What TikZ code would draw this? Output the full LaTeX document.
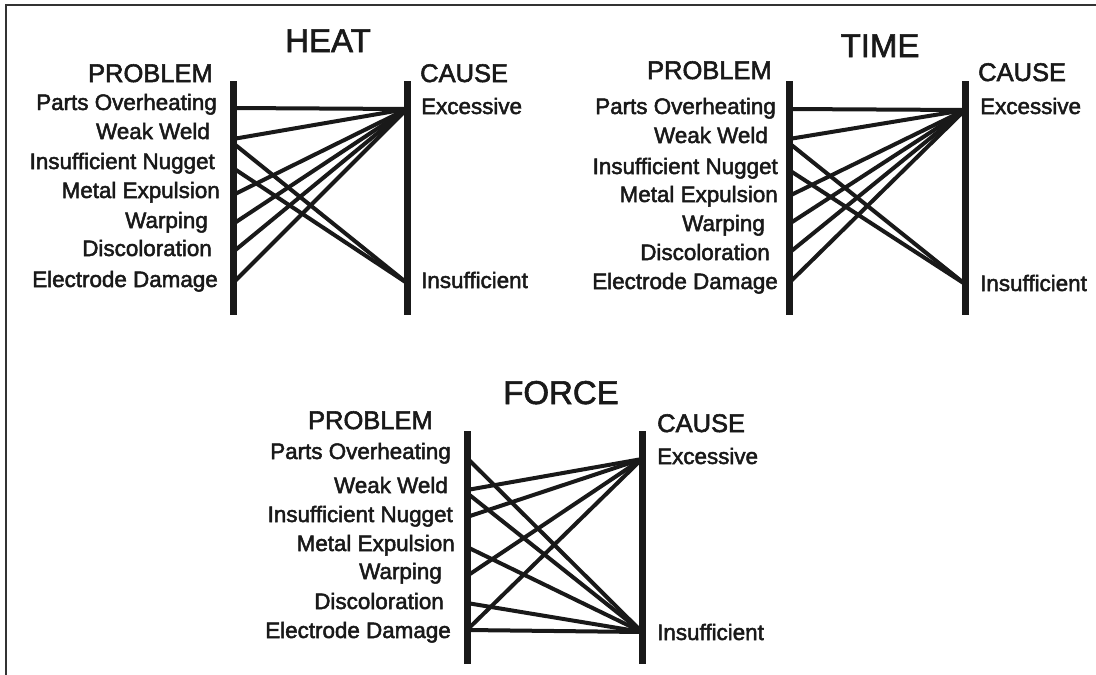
\documentclass[tikz,border=0pt]{standalone}
\usepackage{fontspec}
\setmainfont{Liberation Sans}
\newfontfamily\medfont{Liberation Sans}[FakeBold=2.2]
\newfontfamily\ttlfont{Liberation Sans}[FakeBold=1.8]
\begin{document}
\begin{tikzpicture}[x=1pt,y=-1pt,
  lbl/.style={anchor=east,inner sep=0pt,font=\medfont\fontsize{22.4}{24}\selectfont,text height=16pt,text depth=4pt,text=black!90},
  cause/.style={anchor=west,inner sep=0pt,font=\medfont\fontsize{22.4}{24}\selectfont,text height=16pt,text depth=4pt,text=black!90},
  hdrL/.style={anchor=east,inner sep=0pt,font=\medfont\fontsize{25.5}{28}\selectfont,text height=18pt,text depth=0pt,text=black!90},
  hdrR/.style={anchor=west,inner sep=0pt,font=\medfont\fontsize{25.5}{28}\selectfont,text height=18pt,text depth=0pt,text=black!90},
  ttl/.style={inner sep=0pt,font=\ttlfont\fontsize{33}{36}\selectfont,text height=24pt,text depth=0pt,text=black!90},
  bar/.style={line width=7pt,draw=black!90},
  link/.style={line width=4pt,draw=black!90},
  frame/.style={line width=1.5pt,draw=black!80}]
\useasboundingbox (0,0) rectangle (1096,675);
% frame
\coordinate (f1) at (6,675);
\coordinate (f2) at (6,5);
\coordinate (f3) at (1096,5);
\draw[frame] (f1) -- (f2) -- (f3);

% ================= HEAT =================
\node[ttl] (hT) at (328,40) {HEAT};
\node[hdrL] (hP) at (213,73) {PROBLEM};
\node[hdrR] (hC) at (420,73) {CAUSE};
\node[lbl] (h1) at (217,104) {Parts Overheating};
\node[lbl] (h2) at (210,133) {Weak Weld};
\node[lbl] (h3) at (215,163) {Insufficient Nugget};
\node[lbl] (h4) at (220,192) {Metal Expulsion};
\node[lbl] (h5) at (208,222) {Warping};
\node[lbl] (h6) at (212,250) {Discoloration};
\node[lbl] (h7) at (218,281) {Electrode Damage};
\node[cause] (hE) at (421,108) {Excessive};
\node[cause] (hI) at (421,282) {Insufficient};
\coordinate (hLt) at (233,81); \coordinate (hLb) at (233,315);
\coordinate (hRt) at (407,81); \coordinate (hRb) at (407,315);
\coordinate (hpo) at (233,108);
\coordinate (hwwa) at (233,139);
\coordinate (hwwb) at (233,143);
\coordinate (hin) at (233,168);
\coordinate (hme) at (233,195);
\coordinate (hwa) at (233,224);
\coordinate (hdi) at (233,252);
\coordinate (hed) at (233,283);
\coordinate (hex) at (407,109);
\coordinate (hins) at (407,283);
\draw[link] (hpo) -- (hex);
\draw[link] (hwwa) -- (hex);
\draw[link] (hwwb) -- (hins);
\draw[link] (hin) -- (hins);
\draw[link] (hme) -- (hex);
\draw[link] (hwa) -- (hex);
\draw[link] (hdi) -- (hex);
\draw[link] (hed) -- (hex);
\draw[bar] (hLt) -- (hLb);
\draw[bar] (hRt) -- (hRb);

% ================= TIME =================
\node[ttl] (tT) at (880,45) {TIME};
\node[hdrL] (tP) at (772,70) {PROBLEM};
\node[hdrR] (tC) at (978,72) {CAUSE};
\node[lbl] (t1) at (776,108) {Parts Overheating};
\node[lbl] (t2) at (768,137) {Weak Weld};
\node[lbl] (t3) at (778,168) {Insufficient Nugget};
\node[lbl] (t4) at (778,196) {Metal Expulsion};
\node[lbl] (t5) at (765,225) {Warping};
\node[lbl] (t6) at (770,254) {Discoloration};
\node[lbl] (t7) at (778,283) {Electrode Damage};
\node[cause] (tE) at (980,108) {Excessive};
\node[cause] (tI) at (980,285) {Insufficient};
\coordinate (tLt) at (789,81); \coordinate (tLb) at (789,315);
\coordinate (tRt) at (965,81); \coordinate (tRb) at (965,315);
\coordinate (tpo) at (789,109);
\coordinate (twwa) at (789,139);
\coordinate (twwb) at (789,143);
\coordinate (tin) at (789,170);
\coordinate (tme) at (789,196);
\coordinate (twa) at (789,224);
\coordinate (tdi) at (789,253);
\coordinate (ted) at (789,283);
\coordinate (tex) at (965,110);
\coordinate (tins) at (965,284);
\draw[link] (tpo) -- (tex);
\draw[link] (twwa) -- (tex);
\draw[link] (twwb) -- (tins);
\draw[link] (tin) -- (tins);
\draw[link] (tme) -- (tex);
\draw[link] (twa) -- (tex);
\draw[link] (tdi) -- (tex);
\draw[link] (ted) -- (tex);
\draw[bar] (tLt) -- (tLb);
\draw[bar] (tRt) -- (tRb);

% ================= FORCE =================
\node[ttl] (fT) at (561,392) {FORCE};
\node[hdrL] (fP) at (433,420) {PROBLEM};
\node[hdrR] (fC) at (657,423) {CAUSE};
\node[lbl] (f1l) at (451,453) {Parts Overheating};
\node[lbl] (f2l) at (448,487) {Weak Weld};
\node[lbl] (f3l) at (453,516) {Insufficient Nugget};
\node[lbl] (f4l) at (455,545) {Metal Expulsion};
\node[lbl] (f5l) at (442,573) {Warping};
\node[lbl] (f6l) at (444,603) {Discoloration};
\node[lbl] (f7l) at (451,632) {Electrode Damage};
\node[cause] (fE) at (657,458) {Excessive};
\node[cause] (fI) at (657,634) {Insufficient};
\coordinate (fLt) at (467,431); \coordinate (fLb) at (467,664);
\coordinate (fRt) at (642,431); \coordinate (fRb) at (642,664);
\coordinate (fpo) at (467,458);
\coordinate (fwwa) at (467,490);
\coordinate (fwwb) at (467,493);
\coordinate (fin) at (467,517);
\coordinate (fme) at (467,547);
\coordinate (fwa) at (467,576);
\coordinate (fdi) at (467,603);
\coordinate (fed) at (467,630);
\coordinate (fex) at (642,459);
\coordinate (fins) at (642,632);
\draw[link] (fpo) -- (fins);
\draw[link] (fwwa) -- (fex);
\draw[link] (fwwb) -- (fins);
\draw[link] (fin) -- (fex);
\draw[link] (fme) -- (fins);
\draw[link] (fwa) -- (fex);
\draw[link] (fdi) -- (fins);
\draw[link] (fed) -- (fex);
\draw[link] (fed) -- (fins);
\draw[bar] (fLt) -- (fLb);
\draw[bar] (fRt) -- (fRb);
\end{tikzpicture}
\end{document}
